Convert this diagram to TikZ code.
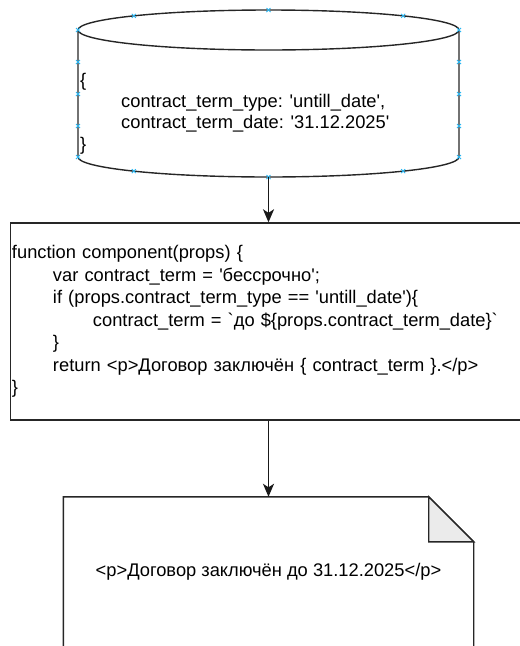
\documentclass[tikz,border=0pt]{standalone}
\usepackage{fontspec}
\setmainfont{Liberation Sans}
\usetikzlibrary{arrows.meta}
\newcommand{\aps}{\textquotesingle}
\newcommand{\grv}{\textasciigrave}
\definecolor{marcablu}{RGB}{41,182,242}
\definecolor{piega}{RGB}{235,235,235}

\begin{document}
\begin{tikzpicture}
    [x=1pt, y=-1pt,
     contorno/.style={draw=black!85, line width=1.4pt},
     blocco/.style={rectangle, inner sep=0pt},
     testo/.style={font=\fontsize{18.3}{22.5}\selectfont},
     freccia/.style={-{Stealth[length=13pt,width=11pt,inset=3.5pt]}, line width=1.5pt, draw=black!90},
     marca/.style={draw=marcablu, line width=0.9pt}]
    \useasboundingbox (0,0) rectangle (520,646);
    \clip (0,0) rectangle (520,646);

    % database
    \node[blocco, minimum width=381pt, minimum height=167pt] (db) at (268.5,93.5) {};
    \draw[contorno] (78,30) -- (78,157) arc[start angle=180, end angle=0, x radius=190.5, y radius=20] -- (459,30);
    \draw[contorno] (268.5,30) ellipse[x radius=190.5, y radius=20];
    \node[testo, blocco, align=left, anchor=north west, font=\fontsize{18.3}{21.2}\selectfont] (dbtext) at (80,73)
        {\{\\\hspace*{41pt}contract\_term\_type: \aps untill\_date\aps,\\\hspace*{41pt}contract\_term\_date: \aps 31.12.2025\aps\\\}};

    \foreach \mx/\my in {268.5/10, 133.8/15.9, 403.2/15.9, 78/30, 459/30, 78/62, 459/62, 78/94, 459/94,
                         78/126, 459/126, 78/157, 459/157, 133.8/171.1, 403.2/171.1, 268.5/177}
        \draw[marca] (\mx-2,\my-2) -- (\mx+2,\my+2) (\mx-2,\my+2) -- (\mx+2,\my-2);

    % component
    \node[contorno, testo, rectangle, text width=513pt, inner xsep=1.5pt, inner ysep=0pt, align=left,
          minimum height=197pt] (code) at (268.5,321.5)
        {function component(props) \{\\
         \hspace*{41pt}var contract\_term = \aps бессрочно\aps;\\
         \hspace*{41pt}if (props.contract\_term\_type == \aps untill\_date\aps)\{\\
         \hspace*{81pt}contract\_term = \grv до \$\{props.contract\_term\_date\}\grv\\
         \hspace*{41pt}\}\\
         \hspace*{41pt}return <p>Договор заключён \{ contract\_term \}.</p>\\
         \}};

    % result page
    \node[blocco, testo, minimum width=410pt, minimum height=150pt] (page) at (268.5,572)
        {<p>Договор заключён до 31.12.2025</p>};
    \draw[contorno] (page.south west) -- (page.north west) -- ([xshift=-45pt]page.north east)
        -- ([yshift=-45pt]page.north east) -- (page.south east);
    \draw[contorno, fill=piega] ([xshift=-45pt]page.north east) -- ([xshift=-45pt,yshift=-45pt]page.north east)
        -- ([yshift=-45pt]page.north east) -- cycle;

    \draw[freccia] (db.south) -- (code.north);
    \draw[freccia] (code.south) -- (page.north);

\end{tikzpicture}
\end{document}
